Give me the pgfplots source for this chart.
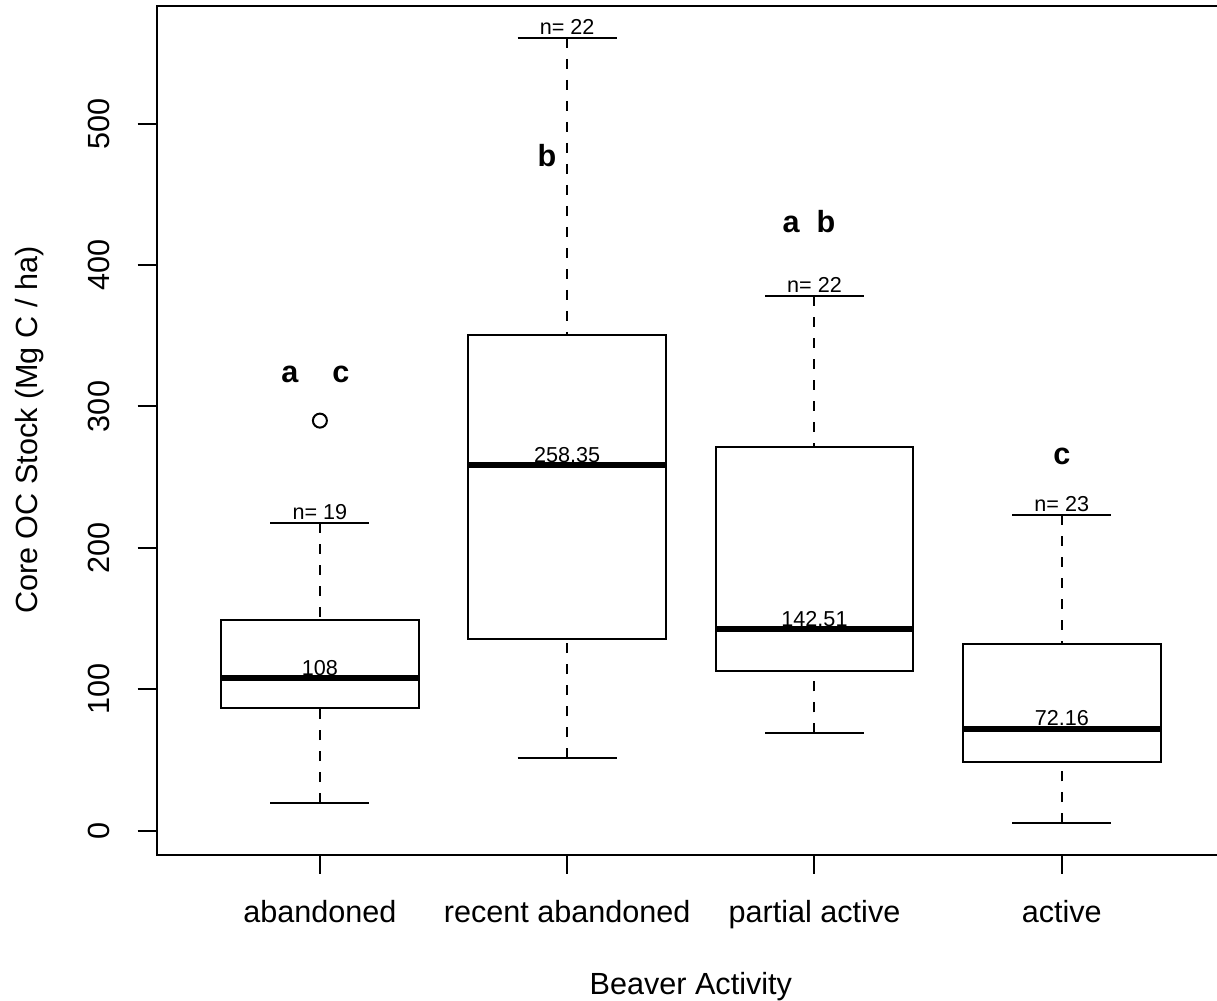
\documentclass[border=0pt]{standalone}
\usepackage{fontspec}
\setmainfont{Liberation Sans}
\usepackage{pgfplots}
\pgfplotsset{compat=1.18}

\newcommand{\mainfont}{\fontsize{15.3bp}{18bp}\selectfont}
\newcommand{\smallfont}{\fontsize{10.8bp}{13bp}\selectfont}

% one R-style box: position, lower whisker, Q1, median, Q3, upper whisker
\newcommand{\rbox}[6]{%
  \addplot[black, line width=1bp, dash pattern=on 5bp off 5.5bp] coordinates {(#1,#6) (#1,#5)};
  \addplot[black, line width=1bp, dash pattern=on 5bp off 5.5bp] coordinates {(#1,#2) (#1,#3)};
  \addplot[black, line width=1bp] coordinates {(#1-0.2,#6) (#1+0.2,#6)};
  \addplot[black, line width=1bp] coordinates {(#1-0.2,#2) (#1+0.2,#2)};
  \addplot[black, line width=1bp] coordinates {(#1-0.4,#3) (#1+0.4,#3) (#1+0.4,#5) (#1-0.4,#5)} --cycle;
  \addplot[black, line width=3bp] coordinates {(#1-0.4,#4) (#1+0.4,#4)};
}

\begin{document}
\begin{tikzpicture}
\begin{axis}[
  scale only axis,
  width=534.2bp, height=424.35bp,
  xmin=0.34, xmax=4.66, ymin=-17, ymax=583.3,
  axis line style={line width=1bp},
  tick style={line width=1bp, black},
  tick align=outside, tick pos=left,
  major tick length=9.5bp,
  xtick={1,2,3,4},
  xticklabels={abandoned, recent abandoned, partial active, active},
  ytick={0,100,200,300,400,500},
  /pgf/number format/assume math mode=true,
  tick label style={font=\mainfont},
  xticklabel style={anchor=base, yshift=-24.5bp},
  yticklabel style={xshift=-14.3bp, rotate=90, anchor=base},
  xlabel={Beaver Activity},
  ylabel={Core OC Stock (Mg C / ha)},
  every axis x label/.style={at={(rel axis cs:0.5,0)}, anchor=base, yshift=-70.15bp, font=\mainfont},
  every axis y label/.style={at={(rel axis cs:0,0.5)}, xshift=-59.7bp, rotate=90, anchor=base, font=\mainfont},
]
\rbox{1}{19.4}{86.8}{108}{149.3}{217.3}
\rbox{2}{51.2}{135.4}{258.35}{350.8}{560.8}
\rbox{3}{68.7}{113.2}{142.51}{271.6}{377.9}
\rbox{4}{5.2}{48.6}{72.16}{132.1}{222.9}
% outlier
\addplot[only marks, mark=o, mark size=3.5bp, mark options={line width=1bp, black}] coordinates {(1,290)};

% sample sizes and medians
\node[anchor=base, font=\smallfont, inner sep=0pt] at (axis cs:1,219.8) {n= 19};
\node[anchor=base, font=\smallfont, inner sep=0pt] at (axis cs:2,563.3) {n= 22};
\node[anchor=base, font=\smallfont, inner sep=0pt] at (axis cs:3,380.4) {n= 22};
\node[anchor=base, font=\smallfont, inner sep=0pt] at (axis cs:4,225.4) {n= 23};
\node[anchor=base, font=\smallfont, inner sep=0pt] at (axis cs:1,110) {108};
\node[anchor=base, font=\smallfont, inner sep=0pt] at (axis cs:2,260.4) {258.35};
\node[anchor=base, font=\smallfont, inner sep=0pt] at (axis cs:3,144.5) {142.51};
\node[anchor=base, font=\smallfont, inner sep=0pt] at (axis cs:4,74.2) {72.16};
% group letters
\node[anchor=base, font=\mainfont\bfseries, inner sep=0pt] at (axis cs:0.982,317) {a\hspace{1.112em}c};
\node[anchor=base, font=\mainfont\bfseries, inner sep=0pt] at (axis cs:1.918,470) {b};
\node[anchor=base, font=\mainfont\bfseries, inner sep=0pt] at (axis cs:2.978,422.8) {a\hspace{0.556em}b};
\node[anchor=base, font=\mainfont\bfseries, inner sep=0pt] at (axis cs:4,259.3) {c};

\coordinate (sw) at (rel axis cs:0,0);
\coordinate (ne) at (rel axis cs:1,1);
\end{axis}
\pgfresetboundingbox
\path[use as bounding box] ([shift={(-78.35bp,-73.15bp)}]sw) rectangle ([shift={(-4bp,3bp)}]ne);
\end{tikzpicture}
\end{document}
